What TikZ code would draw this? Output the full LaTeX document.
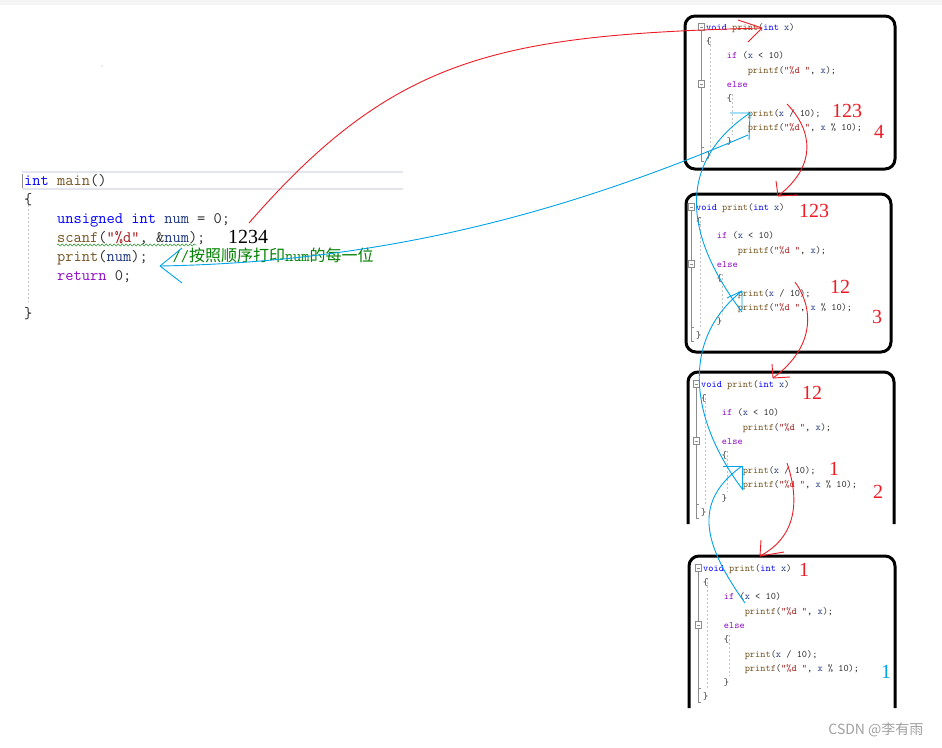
\documentclass[tikz,border=0pt]{standalone}
\usepackage{fontspec}
\setmainfont{Liberation Serif}
\setsansfont{Liberation Sans}
\newfontfamily\cjk{Noto Sans CJK SC}
\usetikzlibrary{decorations.pathmorphing}
\definecolor{codeInk}{RGB}{40,40,40}
\definecolor{kwBlue}{RGB}{0,0,255}
\definecolor{fnBrown}{RGB}{116,83,31}
\definecolor{varNavy}{RGB}{31,55,127}
\definecolor{ctlPurple}{RGB}{143,8,196}
\definecolor{strRed}{RGB}{163,21,21}
\definecolor{cmtGreen}{RGB}{0,128,0}
\definecolor{penRed}{RGB}{237,28,36}
\definecolor{penBlue}{RGB}{0,162,232}
\definecolor{guideGray}{RGB}{195,195,195}
\definecolor{gutterGray}{RGB}{140,140,140}
\definecolor{lineHi}{RGB}{228,228,236}
\definecolor{topBand}{RGB}{245,245,245}
\definecolor{markGray}{RGB}{160,160,160}
% n blanks of the current monospaced font
\newcommand\tabin[1]{\hspace*{#1\fontcharwd\font`0\relax}}
% body of the recursive function, as the editor shows it
\newcommand\printbody{%
  \strut\textcolor{kwBlue}{void} \textcolor{fnBrown}{print}(\textcolor{kwBlue}{int} \textcolor{varNavy}{x})\\
  \{\\
  \tabin{4}\textcolor{ctlPurple}{if} (\textcolor{varNavy}{x} < 10)\\
  \tabin{8}\textcolor{fnBrown}{printf}(\textcolor{strRed}{"\%d "}, \textcolor{varNavy}{x});\\
  \tabin{4}\textcolor{ctlPurple}{else}\\
  \tabin{4}\{\\
  \tabin{8}\textcolor{fnBrown}{print}(\textcolor{varNavy}{x} / 10);\\
  \tabin{8}\textcolor{fnBrown}{printf}(\textcolor{strRed}{"\%d "}, \textcolor{varNavy}{x} \% 10);\\
  \tabin{4}\}\\
  \}}
\tikzset{
  % code text, placed by its top left corner
  listing/.style={anchor=north west, inner sep=0pt, align=left, text=codeInk,
    font=\ttfamily\fontsize{9.9}{14.3}\selectfont},
  mainlisting/.style={listing, font=\ttfamily\fontsize{16}{19}\selectfont},
  % hand-written numbers
  penfig/.style={inner sep=0pt, font=\fontsize{20}{20}\selectfont, text=penRed},
  % black frame round one call of print
  callframe/.style={draw=black, line width=3pt, rounded corners=10pt},
  redpen/.style={draw=penRed, line width=0.9pt},
  bluepen/.style={draw=penBlue, line width=0.9pt},
  guide/.style={draw=guideGray, dashed, dash pattern=on 2pt off 2pt, line width=0.6pt},
  gutter/.style={draw=gutterGray, line width=0.6pt},
}
\begin{document}
\begin{tikzpicture}[x=1pt, y=-1pt]
\useasboundingbox (0,0) rectangle (942,747);
\fill[topBand] (0,0) rectangle (942,5);
\fill[markGray] (102,66) circle (0.7);

% ---------------------------------------------------------------
% main()
% ---------------------------------------------------------------
\draw[lineHi, line width=1.5pt] (22,172) -- (403,172) (22,189) -- (403,189);
\draw[gutter, line width=1pt] (22,174) -- (22,188);
\draw[guide] (28,205) -- (28,302);
\node[mainlisting] (mainfn) at (24,172)
  {\strut\textcolor{kwBlue}{int} \textcolor{fnBrown}{main}()\\
   \{\\
   \tabin{4}\textcolor{kwBlue}{unsigned int} \textcolor{varNavy}{num} = 0;\\
   \tabin{4}\textcolor{fnBrown}{scanf}(\textcolor{strRed}{"\%d"}, \&\textcolor{varNavy}{num});\\
   \tabin{4}\textcolor{fnBrown}{print}(\textcolor{varNavy}{num});\tabin{3}\textcolor{cmtGreen}{//{\cjk\fontsize{16}{19}\selectfont 按照顺序打印}num{\cjk\fontsize{16}{19}\selectfont 的每一位}}\\
   \tabin{4}\textcolor{ctlPurple}{return} 0;\\
   \strut\\
   \}};
\draw[cmtGreen, decorate, decoration={snake, amplitude=1.1pt, segment length=4pt}] (57,245) -- (197,245);
\node[penfig, text=black] (input) at (248,237) {1234};

% ---------------------------------------------------------------
% the four calls of print
% ---------------------------------------------------------------
\draw[callframe] (685,16) rectangle (895,169);
\draw[callframe] (686,194) rectangle (891,352);
\draw[callframe] (688,524) -- (688,372) -- (894,372) -- (894,524);
\draw[callframe] (689,708) -- (689,556) -- (895,556) -- (895,708);

\foreach \bx/\by/\k in {706/27/1, 696/207/2, 701/384/3, 703/568/4} {
  \draw[gutter] (\bx-8,\by-3.5) rectangle (\bx-2,\by+3.5);
  \draw[gutter] (\bx-6.5,\by) -- (\bx-3.5,\by);
  \draw[gutter] (\bx-8,\by+53.7) rectangle (\bx-2,\by+60.7);
  \draw[gutter] (\bx-6.5,\by+57.2) -- (\bx-3.5,\by+57.2);
  \draw[gutter] (\bx-5,\by+3.5) -- (\bx-5,\by+53.7);
  \draw[gutter] (\bx-5,\by+60.7) -- (\bx-5,\by+120) -- (\bx-2,\by+120);
  \draw[gutter] (\bx-5,\by+120) -- (\bx-5,\by+134) -- (\bx-2,\by+134);
  \draw[guide] (\bx+4,\by+10) -- (\bx+4,\by+122);
  \draw[guide] (\bx+26,\by+67) -- (\bx+26,\by+108);
  \node[listing] (call\k) at (\bx,\by-7) {\printbody};
}

% values written beside the calls
\node[penfig] (d1a) at (847,111) {123};
\node[penfig] (d1b) at (879,132) {4};
\node[penfig] (d2a) at (814,211) {123};
\node[penfig] (d2b) at (840,287) {12};
\node[penfig] (d2c) at (877,317) {3};
\node[penfig] (d3a) at (812,393) {12};
\node[penfig] (d3b) at (834,469) {1};
\node[penfig] (d3c) at (878,492) {2};
\node[penfig] (d4a) at (804,570) {1};
\node[penfig, text=penBlue] (d4b) at (886,672) {1};

% ---------------------------------------------------------------
% red: going down into the calls
% ---------------------------------------------------------------
\coordinate (r0s) at (249,223);
\coordinate (r0e) at (762,28);
\coordinate (r1s) at (787,104);
\coordinate (r1e) at (778,196);
\coordinate (r2s) at (795,282);
\coordinate (r2e) at (773,378);
\coordinate (r3s) at (787,463);
\coordinate (r3e) at (760,556);

\draw[redpen] (r0s) .. controls (395,55) and (500,35) .. (r0e);
\draw[redpen] (r0e) -- ++(-24,-8) (r0e) -- ++(-14,14);
\draw[redpen] (r1s) .. controls (812,130) and (818,165) .. (r1e);
\draw[redpen] (r1e) -- ++(-2,-15) (r1e) -- ++(20,-1);
\draw[redpen] (r2s) .. controls (812,305) and (818,345) .. (r2e);
\draw[redpen] (r2e) -- ++(-1,-14) (r2e) -- ++(17,-1);
\draw[redpen] (r3s) .. controls (798,495) and (800,535) .. (r3e);
\draw[redpen] (r3e) -- ++(1,-16) (r3e) -- ++(24,-4);

% ---------------------------------------------------------------
% blue: coming back up
% ---------------------------------------------------------------
\coordinate (b4s) at (745,603);
\coordinate (b4e) at (742,466);
\coordinate (b3s) at (743,490);
\coordinate (b3e) at (742,291);
\coordinate (b2s) at (742,312);
\coordinate (b2e) at (750,113);
\coordinate (b1s) at (748,135);
\coordinate (b1e) at (160,266);

\draw[bluepen] (b4s) .. controls (700,540) and (695,500) .. (b4e);
\draw[bluepen] (b4e) -- ++(-19,0) (b4e) -- ++(0,24);
\draw[bluepen] (b3s) .. controls (690,420) and (680,340) .. (b3e);
\draw[bluepen] (b3e) -- ++(-15,7) (b3e) -- ++(0,19);
\draw[bluepen] (b2s) .. controls (680,230) and (680,160) .. (b2e);
\draw[bluepen] (b2e) -- ++(-20,0) (b2e) -- ++(-1,27);
\draw[bluepen] (b1s) .. controls (560,215) and (380,262) .. (b1e);
\draw[bluepen] (b1e) -- ++(22,-18) (b1e) -- ++(22,17);

\node[font=\cjk\fontsize{14}{14}\selectfont, text=markGray, anchor=east] (credit) at (927,730) {CSDN @李有雨};
\end{tikzpicture}
\end{document}
